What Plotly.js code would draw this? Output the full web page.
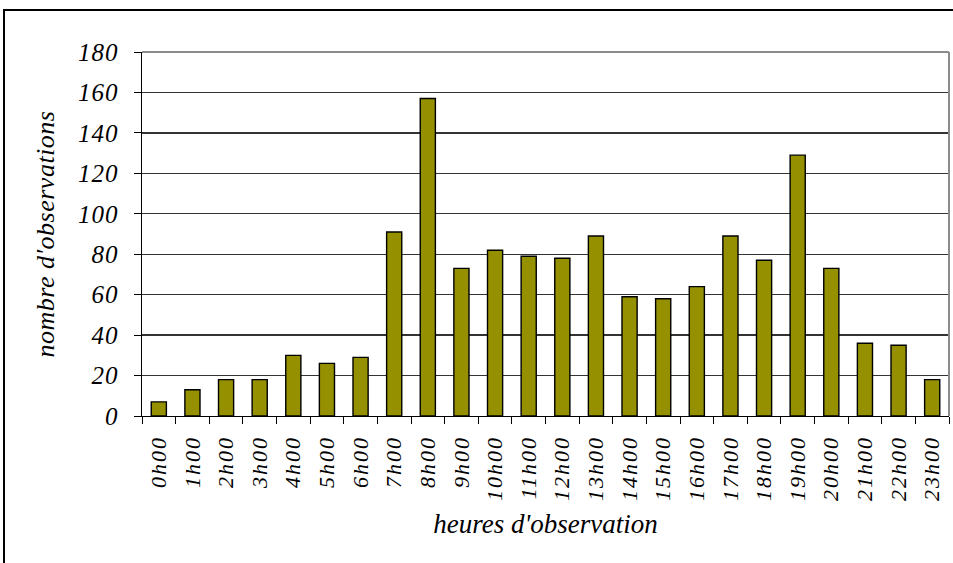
<!DOCTYPE html>
<html>
<head>
<meta charset="utf-8">
<script src="https://cdn.plot.ly/plotly-3.0.1.min.js"></script>
<style>
  html, body { margin: 0; padding: 0; background: #fff; overflow: hidden; }
  #wrap { position: relative; width: 953px; height: 563px; overflow: hidden; }
  #chart { position: absolute; left: 0; top: 0; width: 953px; height: 563px; }
  #frame { position: absolute; left: 3px; top: 9px; width: 1000px; height: 700px;
           border: 2px solid #000; pointer-events: none; box-sizing: border-box; }
  .xtick text { letter-spacing: 2px; }
  .ytick text { letter-spacing: 1px; }
  .g-ytitle text { letter-spacing: 0.5px; }
</style>
</head>
<body>
<div id="wrap">
  <div id="chart"></div>
  <div id="frame"></div>
</div>
<script>
const hours = ["0h00","1h00","2h00","3h00","4h00","5h00","6h00","7h00","8h00","9h00","10h00","11h00",
               "12h00","13h00","14h00","15h00","16h00","17h00","18h00","19h00","20h00","21h00","22h00","23h00"];
const observations = [7, 13, 18, 18, 30, 26, 29, 91, 157, 73, 82, 79, 78, 89, 59, 58, 64, 89, 77, 129, 73, 36, 35, 18];
const yTicks = [0, 20, 40, 60, 80, 100, 120, 140, 160, 180];

const serif = "Liberation Serif";

const trace = {
  type: "bar",
  x: hours,
  y: observations,
  marker: { color: "#949000", line: { color: "#000000", width: 1.4 } },
  hoverinfo: "x+y"
};

const layout = {
  width: 953,
  height: 563,
  margin: { l: 142, r: 4, t: 52, b: 147 },
  paper_bgcolor: "#ffffff",
  plot_bgcolor: "#ffffff",
  bargap: 0.55,
  showlegend: false,
  font: { family: serif, color: "#000" },
  xaxis: {
    type: "category",
    categoryorder: "array",
    categoryarray: hours,
    tickangle: -90,
    ticks: "outside",
    tickson: "boundaries",
    ticklen: 7,
    tickcolor: "#000",
    tickwidth: 1,
    showline: true,
    linecolor: "#000",
    linewidth: 1.2,
    showgrid: false,
    ticklabelstandoff: 10,
    tickfont: { family: serif, size: 22, style: "italic", color: "#000" },
    title: { text: "heures d'observation", standoff: 14,
             font: { family: serif, size: 27, style: "italic", color: "#000" } },
    automargin: false
  },
  yaxis: {
    range: [0, 180],
    tickvals: yTicks,
    ticktext: yTicks.map(String),
    ticks: "outside",
    ticklen: 7,
    tickcolor: "#000",
    tickwidth: 1,
    showline: true,
    linecolor: "#000",
    linewidth: 1.5,
    showgrid: true,
    gridcolor: "#333",
    gridwidth: 1.3,
    zeroline: false,
    ticklabelstandoff: 10,
    tickfont: { family: serif, size: 25, style: "italic", color: "#000" },
    title: { text: "nombre d'observations", standoff: 16,
             font: { family: serif, size: 26, style: "italic", color: "#000" } },
    automargin: false
  },
  shapes: [
    { type: "line", xref: "paper", yref: "paper", x0: 1, x1: 1, y0: 0, y1: 1,
      line: { color: "#8c8c8c", width: 2 } },
    { type: "line", xref: "paper", yref: "paper", x0: 0, x1: 1, y0: 1, y1: 1,
      line: { color: "#8c8c8c", width: 2 } }
  ]
};

Plotly.newPlot("chart", [trace], layout, { displayModeBar: false, staticPlot: true });
</script>
</body>
</html>
